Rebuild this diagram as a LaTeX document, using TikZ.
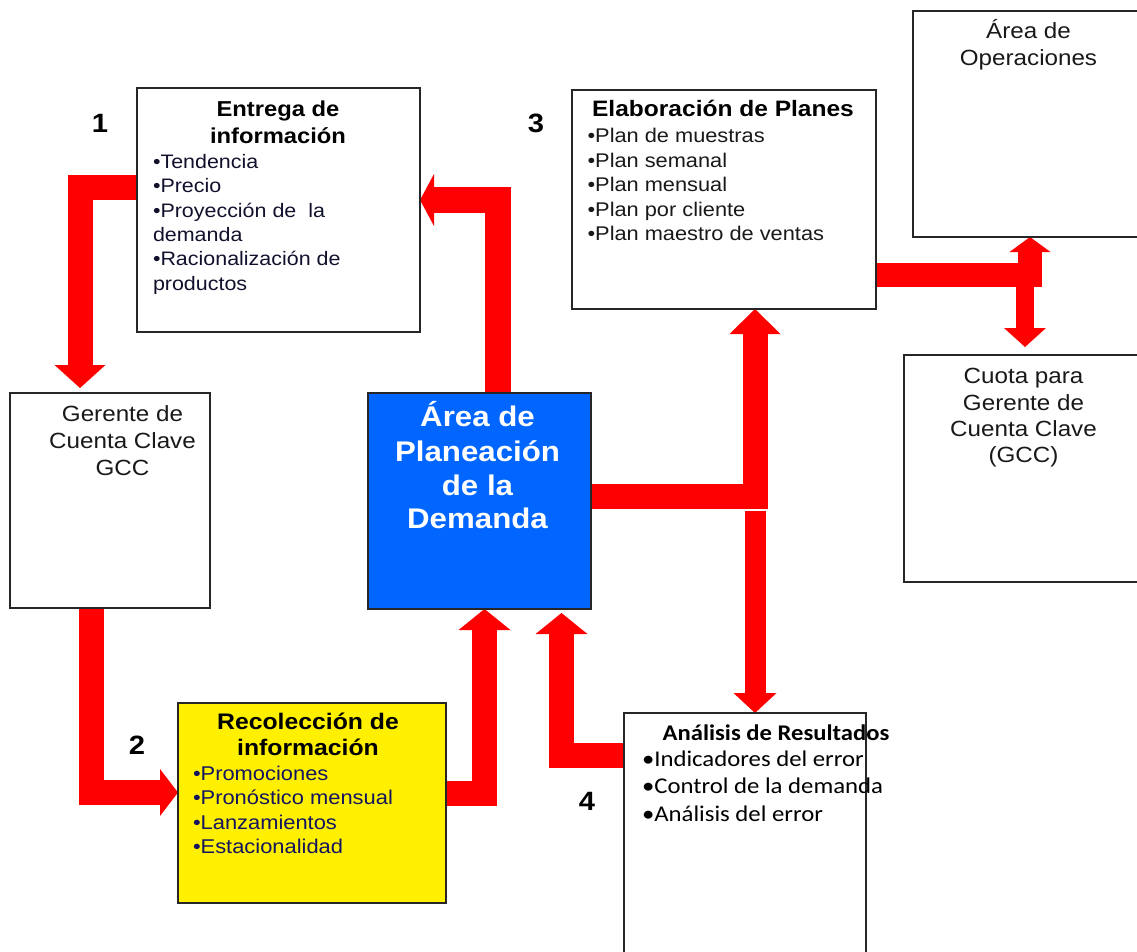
\documentclass[tikz,border=0pt]{standalone}
\usepackage{fontspec}
\setmainfont{Liberation Sans}[FakeStretch=1.1]
\newfontfamily\calibrifont{Carlito}[FakeStretch=1.1]
\usetikzlibrary{arrows.meta,backgrounds}
\definecolor{bluebox}{RGB}{0,102,255}
\definecolor{yellowbox}{RGB}{255,240,0}
\definecolor{navyink}{RGB}{20,20,95}
\definecolor{inkE}{RGB}{17,17,45}
\definecolor{ink}{RGB}{25,25,25}
\definecolor{redarrow}{RGB}{255,0,0}
\tikzset{
  box/.style={draw=black!85, line width=1.5pt, rectangle, inner sep=0pt, outer sep=0pt},
  ln/.style={inner sep=0pt, outer sep=0pt, anchor=base west},
  cn/.style={inner sep=0pt, outer sep=0pt, anchor=base, align=center},
  ra/.style n args={3}{draw=redarrow, line width=#1pt, line join=miter,
     -{Triangle[width=#2pt,length=#3pt,line width=0pt]}},
  numlab/.style={cn, font=\fontsize{26.5}{28}\selectfont\bfseries},
}
\begin{document}
\begin{tikzpicture}[x=1pt,y=-1pt]
\useasboundingbox (0,0) rectangle (1137,951);

% boxes
\node[box, fill=white, minimum width=283pt, minimum height=244pt] (E) at (278.5,210) {};
\node[box, fill=white, minimum width=304pt, minimum height=219pt] (P) at (724,199.5) {};
\node[box, fill=white, minimum width=232pt, minimum height=226pt] (O) at (1029,124) {};
\node[box, fill=white, minimum width=241pt, minimum height=227pt] (C) at (1024.5,468.5) {};
\node[box, fill=white, minimum width=200pt, minimum height=215pt] (G) at (110,500.5) {};
\node[box, fill=bluebox, minimum width=223pt, minimum height=216pt] (A) at (479.5,501) {};
\node[box, fill=yellowbox, minimum width=268pt, minimum height=200pt] (R) at (312,803) {};
\node[box, fill=white, minimum width=242pt, minimum height=252pt] (An) at (745,839) {};

% junction coordinates
\coordinate (J) at (755,496.5);
\coordinate (K) at (1030,275);
\coordinate (K2) at (1025,287);
\coordinate (Ctop) at ([yshift=8pt]C.north);

% arrows
\begin{scope}[on background layer]
\draw[ra={25}{51}{23}] (E.west |- 0,187.5) -| ([yshift=5pt]G.north -| 80,0);
\draw[ra={26}{52}{14}] (A.north -| 498,0) |- (E.east |- 0,200);
\draw[ra={25}{47}{18}] (G.south -| 91.5,0) |- (R.west |- 0,792.5);
\draw[ra={25}{52}{21}] (R.east |- 0,793.5) -| (A.south -| 484.5,0);
\draw[ra={25}{52}{21}] (An.west |- 0,755) -| ([yshift=-4pt]A.south -| 561.5,0);
\draw[ra={25}{51}{25}] (A.east |- J) -- (J) -- (J |- P.south);
\draw[ra={21}{43}{20}] ([yshift=-14pt]J) -- (J |- An.north);
\draw[ra={24}{41}{15}] (P.east |- K) -- (K) -- (K |- O.south);
\draw[ra={18}{42}{19}] (K2) -- (K2 |- Ctop);
\end{scope}

% Entrega de informacion
\node[cn, font=\fontsize{21.6}{22}\selectfont\bfseries] (Et1) at (278,116.7) {Entrega de};
\node[cn, font=\fontsize{21.6}{22}\selectfont\bfseries] (Et2) at (278,143.3) {información};
\foreach \t [count=\i from 0] in {•Tendencia,•Precio,•Proyección de\ \ la,demanda,•Racionalización de,productos}
  \node[ln, font=\fontsize{19.5}{20}\selectfont, text=inkE] (Eb\i) at (153,{168.3+24.4*\i}) {\t};

% Elaboracion de Planes
\node[cn, font=\fontsize{22.3}{23}\selectfont\bfseries] (Pt) at (723,116) {Elaboración de Planes};
\foreach \t [count=\i from 0] in {•Plan de muestras,•Plan semanal,•Plan mensual,•Plan por cliente,•Plan maestro de ventas}
  \node[ln, font=\fontsize{19.8}{20}\selectfont, text=ink] (Pb\i) at (587.6,{142.7+24.5*\i}) {\t};

% Area de Operaciones
\node[cn, font=\fontsize{22}{22}\selectfont, text=ink] (Ot1) at (1028.5,38.3) {Área de};
\node[cn, font=\fontsize{22}{22}\selectfont, text=ink] (Ot2) at (1028.5,65.5) {Operaciones};

% Cuota
\foreach \t/\yy [count=\i] in {Cuota para/383.3,Gerente de/410,Cuenta Clave/436.5,(GCC)/462}
  \node[cn, font=\fontsize{22}{22}\selectfont, text=ink] (Ct\i) at (1023.5,\yy) {\t};

% Gerente
\foreach \t/\yy [count=\i] in {Gerente de/421.8,Cuenta Clave/448.5,GCC/475}
  \node[cn, font=\fontsize{22}{22}\selectfont, text=ink] (Gt\i) at (122.5,\yy) {\t};

% Area de Planeacion
\foreach \t/\yy [count=\i] in {Área de/426.7,Planeación/461,de la/495,Demanda/528.3}
  \node[cn, font=\fontsize{28.4}{29}\selectfont\bfseries, text=white] (At\i) at (477.5,\yy) {\t};

% Recoleccion
\node[cn, font=\fontsize{22.5}{23}\selectfont\bfseries] (Rt1) at (308,729) {Recolección de};
\node[cn, font=\fontsize{22.5}{23}\selectfont\bfseries] (Rt2) at (308,755.6) {información};
\foreach \t [count=\i from 0] in {•Promociones,•Pronóstico mensual,•Lanzamientos,•Estacionalidad}
  \node[ln, font=\fontsize{19.9}{20}\selectfont, text=navyink] (Rb\i) at (193,{780+24.5*\i}) {\t};

% Analisis
\node[cn, font=\fontsize{22.4}{23}\selectfont\calibrifont\bfseries] (Ant) at (776,740) {Análisis de Resultados};
\foreach \t [count=\i from 0] in {•Indicadores del error,•Control de la demanda,•Análisis del error}
  \node[ln, font=\fontsize{22.5}{23}\selectfont\calibrifont] (Anb\i) at (642,{766.5+27.3*\i}) {\t};

% numbers
\node[numlab] (n1) at (100,132) {1};
\node[numlab] (n3) at (536,132) {3};
\node[numlab] (n2) at (137,754.5) {2};
\node[numlab] (n4) at (587,810) {4};
\end{tikzpicture}
\end{document}
